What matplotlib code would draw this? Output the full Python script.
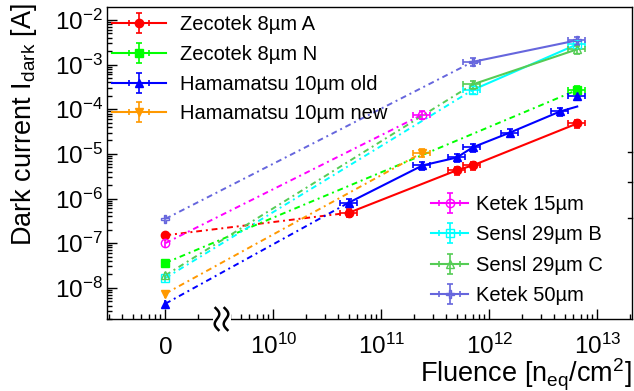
import matplotlib
matplotlib.use('Agg')
import matplotlib.pyplot as plt
import numpy as np
from matplotlib.ticker import FixedLocator, LogLocator, NullFormatter
from matplotlib.patches import Rectangle
from matplotlib.lines import Line2D
import matplotlib.transforms as mtransforms

plt.rcParams['font.family'] = ['Liberation Sans', 'DejaVu Sans']
plt.rcParams['mathtext.fontset'] = 'custom'
plt.rcParams['mathtext.rm'] = 'Liberation Sans'
plt.rcParams['mathtext.it'] = 'Liberation Sans:italic'

# fluence 0 is put at 1e9 on the log axis (left of the axis break)
F0 = 1e9
F_break = 10**9.52

# irradiated points: fluence [n_eq/cm^2] and dark current [A], plus value at fluence 0
zecA_F = [5e10, 5e11, 7e11, 6.5e12]
zecA_I = [4.8e-7, 4.3e-6, 5.5e-6, 4.8e-5]
zecA_I0 = 1.5e-7

zecN_F = [6.5e12]
zecN_I = [2.7e-4]
zecN_I0 = 3.6e-8

hamOld_F = [5e10, 2.4e11, 5e11, 7e11, 1.55e12, 4.5e12, 6.5e12]
hamOld_I = [8.1e-7, 5.5e-6, 8.3e-6, 1.4e-5, 3.0e-5, 8.9e-5, 2.0e-4]
hamOld_I0 = 4.4e-9
hamOld_line_end = 1.15e-4   # solid line stops here at the last fluence

hamNew_F = [2.4e11]
hamNew_I = [1.07e-5]
hamNew_I0 = 7.4e-9

ket15_F = [2.4e11]
ket15_I = [7.6e-5]
ket15_I0 = 1.0e-7

senB_F = [7e11, 6.5e12]
senB_I = [2.7e-4, 2.85e-3]
senB_I0 = 1.65e-8

senC_F = [7e11, 6.5e12]
senC_I = [3.6e-4, 2.2e-3]
senC_I0 = 1.9e-8

ket50_F = [7e11, 6.5e12]
ket50_I = [1.15e-3, 3.5e-3]
ket50_I0 = 3.5e-7

xerr_rel = 0.18
yerr_rel = 0.2

fig = plt.figure(figsize=(6.34, 3.91), dpi=100)
ax = fig.add_axes([107/634, 1-319/391, 525/634, 312/391])
ax.set_xscale('log')
ax.set_yscale('log')
ax.set_xlim(10**8.46, 10**13.32)
ax.set_ylim(2.0e-9, 1.95e-2)

dd = [3, 2, 1, 2]


def draw_series(F, I, I0, color, marker, filled, line_I=None):
    F = np.array(F)
    I = np.array(I)
    LI = I if line_I is None else np.array(line_I)
    mfc = color if filled else 'none'
    # dash-dot from fluence 0 to first irradiated point, solid between irradiated points
    ax.plot([F0, F[0]], [I0, LI[0]], color=color, lw=1.4, dashes=dd)
    ln, = ax.plot(F, LI, color=color, lw=1.5)
    ax.errorbar([F0], [I0], yerr=[[I0*yerr_rel], [I0*yerr_rel]], fmt=marker,
                color=color, mfc=mfc, mec=color, ms=6, elinewidth=1.2, capsize=0)
    eb = ax.errorbar(F, I, xerr=[F*xerr_rel, F*xerr_rel], yerr=[I*yerr_rel, I*yerr_rel],
                     fmt=marker, ls='none', color=color, mfc=mfc, mec=color, ms=6,
                     elinewidth=1.2, capsize=2, capthick=1.2)
    return (ln, eb)


h1 = draw_series(zecA_F, zecA_I, zecA_I0, '#ff0000', 'o', True)
h2 = draw_series(zecN_F, zecN_I, zecN_I0, '#00ff00', 's', True)
h3 = draw_series(hamOld_F, hamOld_I, hamOld_I0, '#0000ff', '^', True,
                 line_I=hamOld_I[:-1] + [hamOld_line_end])
h4 = draw_series(hamNew_F, hamNew_I, hamNew_I0, '#ff9900', 'v', True)
h5 = draw_series(ket15_F, ket15_I, ket15_I0, '#ff00ff', 'o', False)
h6 = draw_series(senB_F, senB_I, senB_I0, '#00ffff', 's', False)
h7 = draw_series(senC_F, senC_I, senC_I0, '#55cc55', '^', False)
h8 = draw_series(ket50_F, ket50_I, ket50_I0, '#6666dd', 'P', False)

labels1 = ['Zecotek 8µm A', 'Zecotek 8µm N', 'Hamamatsu 10µm old', 'Hamamatsu 10µm new']
labels2 = ['Ketek 15µm', 'Sensl 29µm B', 'Sensl 29µm C', 'Ketek 50µm']

xticks = [1e9, 1e10, 1e11, 1e12, 1e13]
xlabels = ['0', r'$10^{10}$', r'$10^{11}$', r'$10^{12}$', r'$10^{13}$']
ax.xaxis.set_major_locator(FixedLocator(xticks))
ax.set_xticklabels(xlabels)
ax.xaxis.set_minor_locator(LogLocator(base=10, subs=np.arange(2, 10), numticks=30))
ax.xaxis.set_minor_formatter(NullFormatter())

yticks = [1e-8, 1e-7, 1e-6, 1e-5, 1e-4, 1e-3, 1e-2]
ax.yaxis.set_major_locator(FixedLocator(yticks))
ax.set_yticklabels([r'$10^{%d}$' % int(np.log10(v)) for v in yticks])
ax.yaxis.set_minor_locator(LogLocator(base=10, subs=np.arange(2, 10), numticks=30))
ax.yaxis.set_minor_formatter(NullFormatter())

ax.tick_params(which='both', direction='in', top=False, right=False, width=1)
ax.tick_params(which='major', length=7.5)
ax.tick_params(which='minor', length=3.8)
ax.tick_params(axis='y', labelsize=17.5, pad=3)
ax.tick_params(axis='x', labelsize=17.5, pad=25)
for lab in ax.get_xticklabels():
    lab.set_verticalalignment('baseline')
for sp in ax.spines.values():
    sp.set_linewidth(1)

ax.set_ylabel(r'Dark current I$_{\mathrm{dark}}$ [A]', fontsize=19.5, loc='top')
ax.yaxis.set_label_coords(-0.13, 1.013)
ax.set_xlabel(r'Fluence [n$_{\mathrm{eq}}$/cm$^{2}$]', fontsize=19.5, loc='right')
ax.xaxis.set_label_coords(1.0, -0.12)

leg1 = ax.legend([h1, h2, h3, h4], labels1, loc='upper left',
                 bbox_to_anchor=(0.0095, 0.973), frameon=False, fontsize=14.5,
                 handlelength=2.7, handletextpad=0.7, labelspacing=0.53,
                 borderpad=0, borderaxespad=0)
ax.add_artist(leg1)
ax.legend([h5, h6, h7, h8], labels2, loc='upper left', bbox_to_anchor=(0.617, 0.397),
          frameon=False, fontsize=14.5, handlelength=1.85, handletextpad=0.4,
          labelspacing=0.56, borderpad=0, borderaxespad=0)

# odd short marks on the right edge
for v in [1.12e-5, 2.3e-6, 3.7e-7]:
    ax.plot([0.993, 1.0], [v, v], color='black', lw=1,
            transform=mtransforms.blended_transform_factory(ax.transAxes, ax.transData),
            clip_on=False)

# axis break marks
bx = ax.transData.transform((F_break, 1e-5))[0]
by = ax.transAxes.transform((0, 0))[1]
ax.add_patch(Rectangle((bx - 9, by - 2), 18, 14, transform=mtransforms.IdentityTransform(),
                       facecolor='white', edgecolor='none', zorder=5, clip_on=False))
t = np.linspace(0, 1, 60)
for off in (-4.5, 4.5):
    xs = bx + off + 3.0*np.sin(2*np.pi*t) + 3.0*(t - 0.5)
    ys = by + 11 - 22*t
    ax.add_line(Line2D(xs, ys, transform=mtransforms.IdentityTransform(), color='black',
                       lw=1.8, zorder=6, clip_on=False))

fig.savefig('out.png', dpi=100)
